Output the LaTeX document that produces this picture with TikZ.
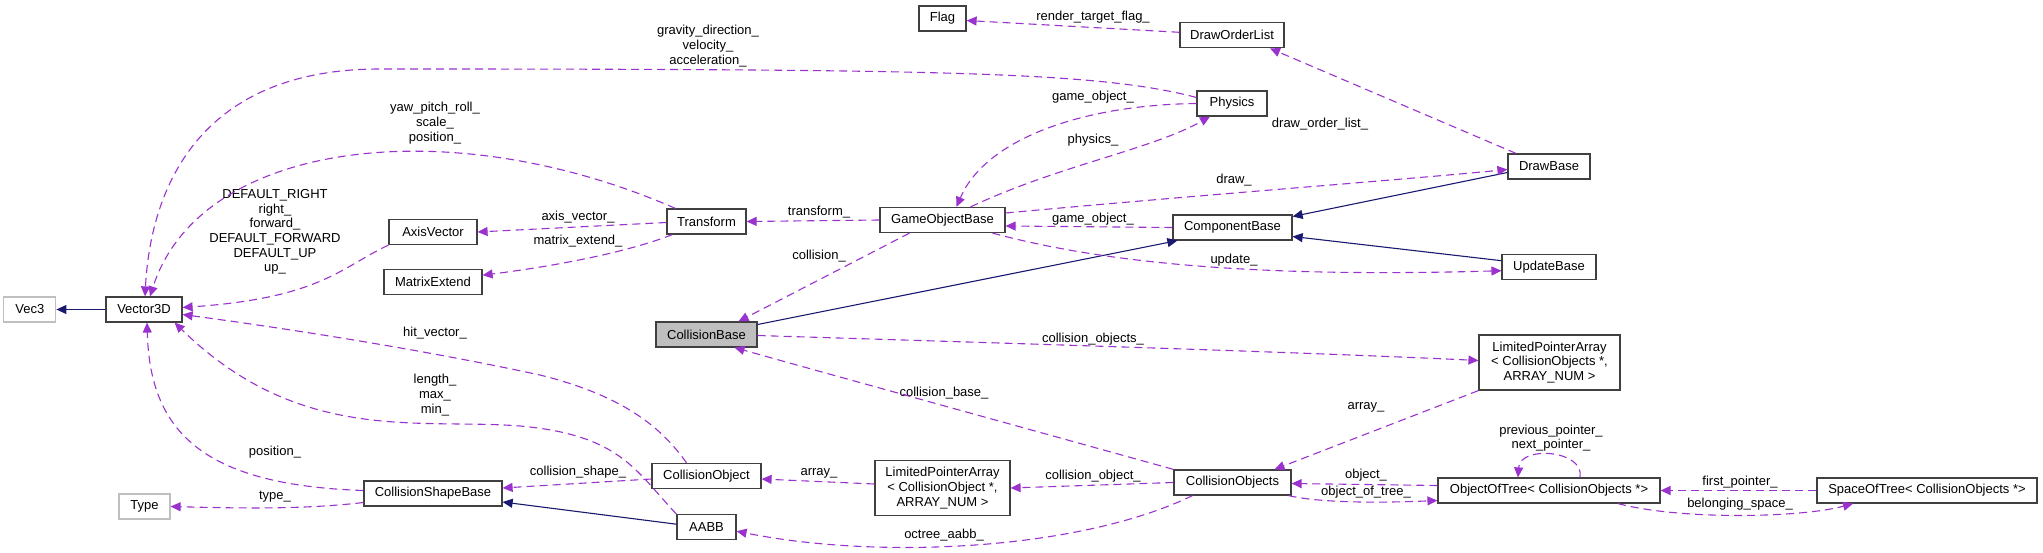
\documentclass[tikz,border=0pt]{standalone}
\usepackage{fontspec}
\setmainfont{Liberation Sans}
\usetikzlibrary{arrows.meta, positioning}
\definecolor{useedge}{RGB}{154,50,205}
\definecolor{baseedge}{RGB}{25,25,112}
\definecolor{boxline}{RGB}{64,64,64}
\definecolor{extline}{RGB}{191,191,191}
\definecolor{current}{RGB}{191,191,191}

\begin{document}
\begin{tikzpicture}[
  x=1pt, y=-1pt,
  cls/.style={rectangle, draw=boxline, fill=white, line width=1.2pt,
    minimum width=#1, minimum height=25pt, inner sep=0pt,
    font=\fontsize{13}{14.7}\selectfont, align=center},
  ext/.style={cls=#1, draw=extline},
  lpa/.style={cls=#1, minimum height=55pt},
  tag/.style={inner sep=0pt, font=\fontsize{13}{14.7}\selectfont, align=center},
  uses/.style={-{Triangle[length=10pt, width=9pt]}, draw=useedge, line width=1.1pt,
    dash pattern=on 8pt off 5pt},
  base/.style={-{Triangle[length=10pt, width=9pt]}, draw=baseedge, line width=1.1pt}
]
\useasboundingbox (0,0) rectangle (2043,553);

% Classes
\node[cls=76pt] (vecd) at (144,309.5) {Vector3D};
\node[ext=52pt, left=49pt of vecd] (vec) {Vec3};
\node[cls=88pt] (axis) at (433,232) {AxisVector};
\node[cls=98pt, below=24pt of axis] (mext) {MatrixExtend};
\node[cls=79pt] (tf) at (706.5,221.5) {Transform};
\node[cls=125pt] (gob) at (942.5,220) {GameObjectBase};
\node[cls=47pt] (flag) at (942.5,18.5) {Flag};
\node[cls=70pt] (phys) at (1232,103.5) {Physics};
\node[cls=104pt, above=42pt of phys] (dol) {DrawOrderList};
\node[cls=119pt] (comp) at (1232.5,227.5) {ComponentBase};
\node[cls=82pt] (drawb) at (1549,166.5) {DrawBase};
\node[cls=94pt, below=74pt of drawb] (upd) {UpdateBase};
\node[cls=101pt, fill=current] (cbase) at (706.5,334.5) {CollisionBase};
\node[lpa=141pt] (lpaos) at (1549.5,362.5) {LimitedPointerArray\\< CollisionObjects *,\\ ARRAY\_NUM >};
\node[cls=109pt] (cobj) at (706.5,476) {CollisionObject};
\node[cls=59pt, below=25pt of cobj] (aabb) {AABB};
\node[lpa=135pt] (lpao) at (942.5,488) {LimitedPointerArray\\< CollisionObject *,\\ ARRAY\_NUM >};
\node[cls=117pt] (cobjs) at (1232.5,482.5) {CollisionObjects};
\node[cls=138pt] (csb) at (433,493.5) {CollisionShapeBase};
\node[ext=51pt] (typ) at (144.5,506.5) {Type};
\node[cls=222pt] (oot) at (1549,490.5) {ObjectOfTree< CollisionObjects *>};
\node[cls=220pt] (sot) at (1927,490.5) {SpaceOfTree< CollisionObjects *>};

% Member labels
\node[tag] (lgrav) at (708,46) {gravity\_direction\_\\velocity\_\\acceleration\_};
\node[tag] (lyaw) at (435,123) {yaw\_pitch\_roll\_\\scale\_\\position\_};
\node[tag] (ldef) at (275,232) {DEFAULT\_RIGHT\\right\_\\forward\_\\DEFAULT\_FORWARD\\DEFAULT\_UP\\up\_};
\node[tag] (laxis) at (578,217) {axis\_vector\_};
\node[tag] (lmext) at (578,241) {matrix\_extend\_};
\node[tag] (ltf) at (819,212) {transform\_};
\node[tag] (lflag) at (1093,17) {render\_target\_flag\_};
\node[tag] (ldol) at (1320,124) {draw\_order\_list\_};
\node[tag] (lgo1) at (1093,97) {game\_object\_};
\node[tag] (lphys) at (1093,140) {physics\_};
\node[tag] (ldraw) at (1234,180) {draw\_};
\node[tag] (lgo2) at (1093,219) {game\_object\_};
\node[tag] (lupd) at (1234,260) {update\_};
\node[tag] (lcoll) at (819,256) {collision\_};
\node[tag] (lcos) at (1093,339) {collision\_objects\_};
\node[tag] (lcb) at (944,393) {collision\_base\_};
\node[tag] (larr1) at (1366,407) {array\_};
\node[tag] (lco) at (1093,476) {collision\_object\_};
\node[tag] (larr2) at (819,473) {array\_};
\node[tag] (lshape) at (578,472) {collision\_shape\_};
\node[tag] (ltype) at (275,497) {type\_};
\node[tag] (lposn) at (275,452) {position\_};
\node[tag] (lhit) at (435,333) {hit\_vector\_};
\node[tag] (llen) at (435,395) {length\_\\max\_\\min\_};
\node[tag] (laabb) at (944,535) {octree\_aabb\_};
\node[tag] (lobj) at (1366,475) {object\_};
\node[tag] (loot) at (1366,492) {object\_of\_tree\_};
\node[tag] (lptr) at (1551,438) {previous\_pointer\_\\next\_pointer\_};
\node[tag] (lfirst) at (1740,482) {first\_pointer\_};
\node[tag] (lbel) at (1740,504) {belonging\_space\_};

% Inheritance
\draw[base] (vecd) -- (vec);
\draw[base] ([yshift=-6pt]drawb.west) -- ([yshift=11pt]comp.east);
\draw[base] ([yshift=6pt]upd.west) -- ([yshift=-9pt]comp.east);
\draw[base] ([yshift=10pt]cbase.east) -- ([xshift=5pt]comp.south west);
\draw[base] ([yshift=3pt]aabb.west) -- ([yshift=-8.5pt]csb.east);

% Usage
\draw[uses] ([yshift=6pt]phys.west) .. controls (1100,72) and (950,69) .. (380,69)
  .. controls (190,69) and (150,200) .. ([xshift=1pt]vecd.north);
\draw[uses] ([xshift=9pt]tf.north west) .. controls (450,110) and (200,140) .. ([xshift=6pt]vecd.north);
\draw[uses] (axis.south west) .. controls (340,268) and (320,298) .. ([yshift=2pt]vecd.east);
\draw[uses] ([yshift=-1pt]tf.west) -- (axis.east);
\draw[uses] ([xshift=6pt]tf.south west) .. controls (620,255) and (540,268) .. ([yshift=7pt]mext.east);
\draw[uses] (gob.west) -- (tf.east);
\draw[uses] ([xshift=28pt]gob.north) .. controls (1060,165) and (1150,150) .. ([xshift=-22pt]phys.south);
\draw[uses] (phys.west) .. controls (1080,105) and (985,140) .. ([xshift=14pt]gob.north);
\draw[uses] ([xshift=-33pt]drawb.north) -- ([xshift=38pt]dol.south);
\draw[uses] ([yshift=3pt]dol.west) -- ([yshift=-2pt]flag.east);
\draw[uses] ([yshift=7pt]gob.east) .. controls (1200,195) and (1400,180) .. ([yshift=-3pt]drawb.west);
\draw[uses] (comp.west) -- ([yshift=-6pt]gob.east);
\draw[uses] ([xshift=50pt]gob.south) .. controls (1100,262) and (1250,278) .. ([yshift=-4pt]upd.west);
\draw[uses] ([xshift=-33pt]gob.south) -- ([xshift=32pt]cbase.north);
\draw[uses] ([yshift=-1pt]cbase.east) .. controls (1000,343) and (1300,352) .. ([yshift=2pt]lpaos.west);
\draw[uses] (cobjs.north west) .. controls (1050,435) and (850,380) .. ([xshift=28pt]cbase.south);
\draw[uses] (lpaos.south west) -- ([xshift=42pt]cobjs.north);
\draw[uses] (cobjs.west) -- (lpao.east);
\draw[uses] ([yshift=4pt]lpao.west) -- ([yshift=-3pt]cobj.east);
\draw[uses] ([yshift=-3pt]cobj.west) -- ([yshift=5.5pt]csb.east);
\draw[uses] ([yshift=-9pt]csb.west) .. controls (300,510) and (230,508) .. (typ.east);
\draw[uses] ([yshift=3pt]csb.west) .. controls (200,485) and (150,430) .. ([xshift=3pt]vecd.south);
\draw[uses] ([xshift=-20pt]cobj.north) .. controls (660,425) and (620,395) .. (540,375)
  .. controls (400,345) and (260,325) .. ([yshift=-5pt]vecd.east);
\draw[uses] (aabb.north west) .. controls (635,470) and (620,435) .. (520,426)
  .. controls (420,418) and (300,445) .. ([xshift=-8pt]vecd.south east);
\draw[uses] ([xshift=-40pt]cobjs.south) .. controls (1080,550) and (880,560) .. ([yshift=-4pt]aabb.east);
\draw[uses] ([yshift=5pt]oot.west) -- ([yshift=-1pt]cobjs.east);
\draw[uses] ([xshift=-3pt]cobjs.south east) .. controls (1320,503) and (1380,503) .. ([yshift=-10pt]oot.west);
\draw[uses] ([xshift=31pt]oot.north) .. controls (1585,450) and (1520,445) .. ([xshift=-31pt]oot.north);
\draw[uses] (sot.west) -- (oot.east);
\draw[uses] ([xshift=69pt]oot.south) .. controls (1680,520) and (1800,518) .. ([xshift=-74pt]sot.south);
\end{tikzpicture}
\end{document}
